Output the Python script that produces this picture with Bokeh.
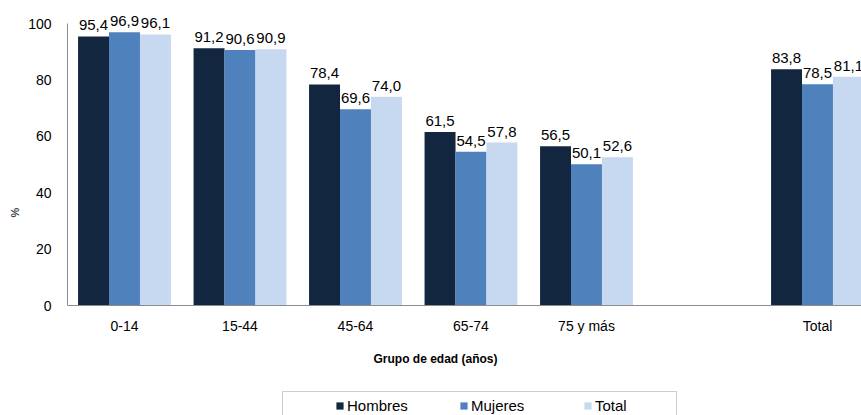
from bokeh.plotting import figure
from bokeh.models import ColumnDataSource, FixedTicker, Range1d, Label, Legend, LegendItem, BoxAnnotation, LabelSet
from bokeh.core.properties import value
from bokeh.embed import file_html
from bokeh.resources import INLINE

categories = ["0-14", "15-44", "45-64", "65-74", "75 y más", "Total"]
cat_pos = [0.5, 1.5, 2.5, 3.5, 4.5, 6.5]
hombres = [95.4, 91.2, 78.4, 61.5, 56.5, 83.8]
mujeres = [96.9, 90.6, 69.6, 54.5, 50.1, 78.5]
total = [96.1, 90.9, 74.0, 57.8, 52.6, 81.1]
series_names = ["Hombres", "Mujeres", "Total"]
series_colors = ["#13263F", "#4F81BD", "#C6D9F1"]
y_ticks = [0, 20, 40, 60, 80, 100]

FONT = "Liberation Sans"
bw = 0.268
offsets = [-bw, 0.0, bw]

# frame: left 67 .. right 861, top 9 .. bottom 415 ; zero line at y=305
px_per_unit_y = 282.0 / 100.0
y_top = (305 - 9) / px_per_unit_y
y_bot = -(415 - 305) / px_per_unit_y

p = figure(width=861, height=415, output_backend="svg", toolbar_location=None,
           x_range=Range1d(0.0065, 6.881), y_range=Range1d(y_bot, y_top),
           min_border_left=67, min_border_right=0, min_border_top=9, min_border_bottom=0)
p.outline_line_color = None
p.grid.visible = False
p.background_fill_color = "white"
p.border_fill_color = "white"

renderers = []
for vals, off, col, name in zip([hombres, mujeres, total], offsets, series_colors, series_names):
    src = ColumnDataSource(dict(x=[c + off for c in cat_pos], top=vals,
                                lab=[f"{v:.1f}".replace(".", ",") for v in vals]))
    r = p.vbar(x="x", top="top", bottom=0, width=bw, source=src, fill_color=col, line_color=None)
    renderers.append(r)
    ls = LabelSet(x="x", y="top", text="lab", source=src, text_align="center",
                  text_baseline="bottom", y_offset=6, text_font=value(FONT),
                  text_font_size=value("15px"), text_color="#000000")
    p.add_layout(ls)

p.xaxis.fixed_location = 0
p.xaxis.ticker = FixedTicker(ticks=cat_pos)
p.xaxis.major_label_overrides = {c: l for c, l in zip(cat_pos, categories)}
p.xaxis.major_tick_line_color = None
p.xaxis.minor_tick_line_color = None
p.xaxis.axis_line_color = "#8C8C8C"
p.xaxis.major_label_standoff = 6
p.xaxis.major_label_text_font = FONT
p.xaxis.major_label_text_font_size = "14px"
p.xaxis.major_label_text_color = "#000000"

p.yaxis.bounds = (0, 100)
p.yaxis.ticker = FixedTicker(ticks=y_ticks)
p.yaxis.major_tick_line_color = None
p.yaxis.minor_tick_line_color = None
p.yaxis.axis_line_color = "#8C8C8C"
p.yaxis.major_label_standoff = 10
p.yaxis.major_label_text_font = FONT
p.yaxis.major_label_text_font_size = "14px"
p.yaxis.major_label_text_color = "#000000"
p.yaxis.axis_label = "%"
p.yaxis.axis_label_text_font = FONT
p.yaxis.axis_label_text_font_style = "bold"
p.yaxis.axis_label_text_font_size = "11px"
p.yaxis.axis_label_standoff = 4

p.add_layout(Label(x=368, y=57, x_units="screen", y_units="screen", text="Grupo de edad (años)",
                   text_align="center", text_baseline="middle", text_font=FONT,
                   text_font_style="bold", text_font_size="12px", text_color="#000000"))

p.add_layout(BoxAnnotation(left=215, right=609, bottom=-10, top=24,
                           left_units="screen", right_units="screen",
                           bottom_units="screen", top_units="screen",
                           fill_color="white", fill_alpha=1, line_color="#595959", line_width=1))

legend = Legend(items=[LegendItem(label=n, renderers=[r]) for n, r in zip(series_names, renderers)],
                orientation="horizontal", location=(268, 0), glyph_width=9, glyph_height=9,
                label_width=100, spacing=12, label_standoff=3, padding=0, margin=0,
                border_line_alpha=0, background_fill_alpha=0, label_height=19,
                label_text_font=FONT, label_text_font_size="15px", label_text_color="#000000")
p.add_layout(legend)

open("out.html", "w").write(file_html(p, INLINE))
